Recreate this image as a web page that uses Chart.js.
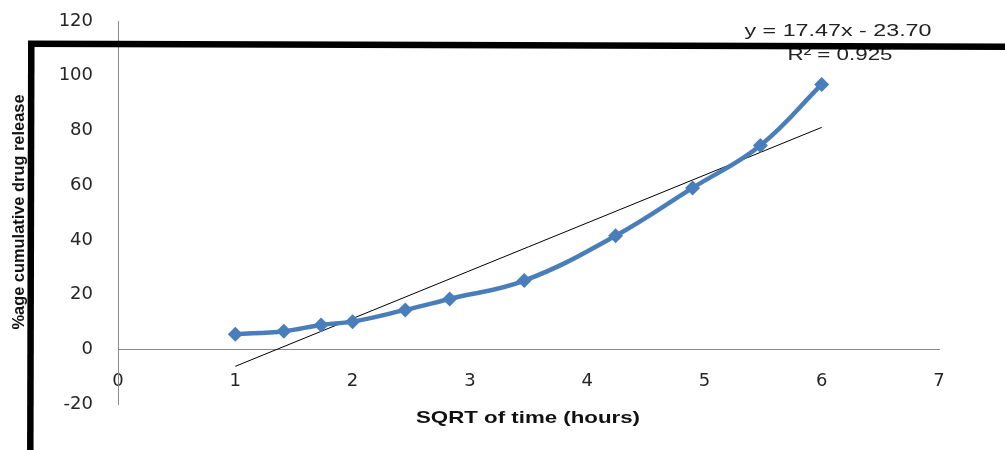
<!DOCTYPE html>
<html>
<head>
<meta charset="utf-8">
<script src="https://cdn.jsdelivr.net/npm/chart.js@4/dist/chart.umd.min.js"></script>
<style>
  html, body { margin: 0; padding: 0; background: #ffffff; }
  #wrap { width: 1005px; height: 450px; position: relative; }
</style>
</head>
<body>
<div id="wrap"><canvas id="c" width="1005" height="450"></canvas></div>
<script>
// Square root of sampling time (hours)
const sqrtTime = [1, 1.414, 1.732, 2, 2.449, 2.828, 3.464, 4.243, 4.899, 5.477, 6];
// Cumulative drug release (%)
const release = [5.5, 6.6, 8.9, 10.1, 14.4, 18.4, 25.1, 41.5, 59.0, 74.5, 96.8];
// Linear fit reported on the chart
const fitSlope = 17.47;
const fitIntercept = -23.70;
const fitRSquared = 0.925;
const fitRange = [1, 6];
// Axis ticks
const xTicks = [0, 1, 2, 3, 4, 5, 6, 7];
const yTicks = [-20, 0, 20, 40, 60, 80, 100, 120];

const xTitle = 'SQRT of time (hours)';
const yTitle = '%age cumulative drug release';
const eqText = 'y = ' + fitSlope.toFixed(2) + 'x - ' + Math.abs(fitIntercept).toFixed(2);
const r2Text = 'R\u00B2 = ' + fitRSquared.toFixed(3);

const points = sqrtTime.map((x, i) => ({ x: x, y: release[i] }));
const fitLine = fitRange.map(x => ({ x: x, y: fitSlope * x + fitIntercept }));

// Draw text stretched to a given width
function fitText(ctx, text, cx, cy, width, font, color, rotate) {
  ctx.save();
  ctx.font = font;
  ctx.fillStyle = color;
  ctx.textAlign = 'center';
  ctx.textBaseline = 'middle';
  const w = ctx.measureText(text).width;
  ctx.translate(cx, cy);
  if (rotate) ctx.rotate(-Math.PI / 2);
  ctx.scale(width / w, 1);
  ctx.fillText(text, 0, 0);
  ctx.restore();
}

const annotations = {
  id: 'annotations',
  afterDraw(chart) {
    const ctx = chart.ctx;
    fitText(ctx, yTitle, 20, 212, 235, 'bold 16px "Liberation Sans"', '#111', true);
    fitText(ctx, xTitle, 528, 418, 224, 'bold 17px "Liberation Sans"', '#111', false);
    fitText(ctx, eqText, 838, 31, 187, '17px "Liberation Sans"', '#222', false);
    fitText(ctx, r2Text, 840, 55, 105, '17px "Liberation Sans"', '#222', false);
    // heavy black frame strokes
    ctx.save();
    ctx.strokeStyle = '#000';
    ctx.lineWidth = 6.5;
    ctx.lineCap = 'butt';
    ctx.beginPath();
    ctx.moveTo(28, 43.7);
    ctx.lineTo(1005, 46.7);
    ctx.stroke();
    ctx.beginPath();
    ctx.moveTo(31.3, 41);
    ctx.lineTo(30.3, 450);
    ctx.stroke();
    ctx.restore();
  }
};

new Chart(document.getElementById('c'), {
  type: 'scatter',
  data: {
    datasets: [
      {
        data: points,
        showLine: true,
        borderColor: '#4A7EBB',
        backgroundColor: '#4A7EBB',
        borderWidth: 4.5,
        tension: 0.4,
        pointStyle: 'rectRot',
        pointRadius: 7.5,
        pointHoverRadius: 7.5,
        pointBorderWidth: 0
      },
      {
        data: fitLine,
        showLine: true,
        borderColor: '#000000',
        borderWidth: 1,
        pointRadius: 0,
        tension: 0
      }
    ]
  },
  options: {
    responsive: false,
    animation: false,
    events: [],
    layout: { padding: { left: 0, right: 66, top: 21, bottom: 46 } },
    plugins: { legend: { display: false }, tooltip: { enabled: false }, title: { display: false } },
    scales: {
      x: {
        type: 'linear',
        position: { y: 0 },
        min: xTicks[0],
        max: xTicks[xTicks.length - 1],
        afterBuildTicks: s => { s.ticks = xTicks.map(v => ({ value: v })); },
        grid: { display: false, drawTicks: false },
        border: { display: true, color: '#8a8a8a', width: 1 },
        ticks: { padding: 21, color: '#262626', font: { family: 'DejaVu Sans', size: 18 } }
      },
      y: {
        type: 'linear',
        position: 'left',
        min: yTicks[0],
        max: yTicks[yTicks.length - 1],
        afterBuildTicks: s => { s.ticks = yTicks.map(v => ({ value: v })); },
        afterFit: s => { s.width = 118; s.paddingTop = 10; s.paddingBottom = 10; },
        grid: { display: false, drawTicks: false },
        border: { display: true, color: '#8a8a8a', width: 1 },
        ticks: { padding: 25, color: '#262626', font: { family: 'DejaVu Sans', size: 18 } }
      }
    }
  },
  plugins: [annotations]
});
</script>
</body>
</html>
